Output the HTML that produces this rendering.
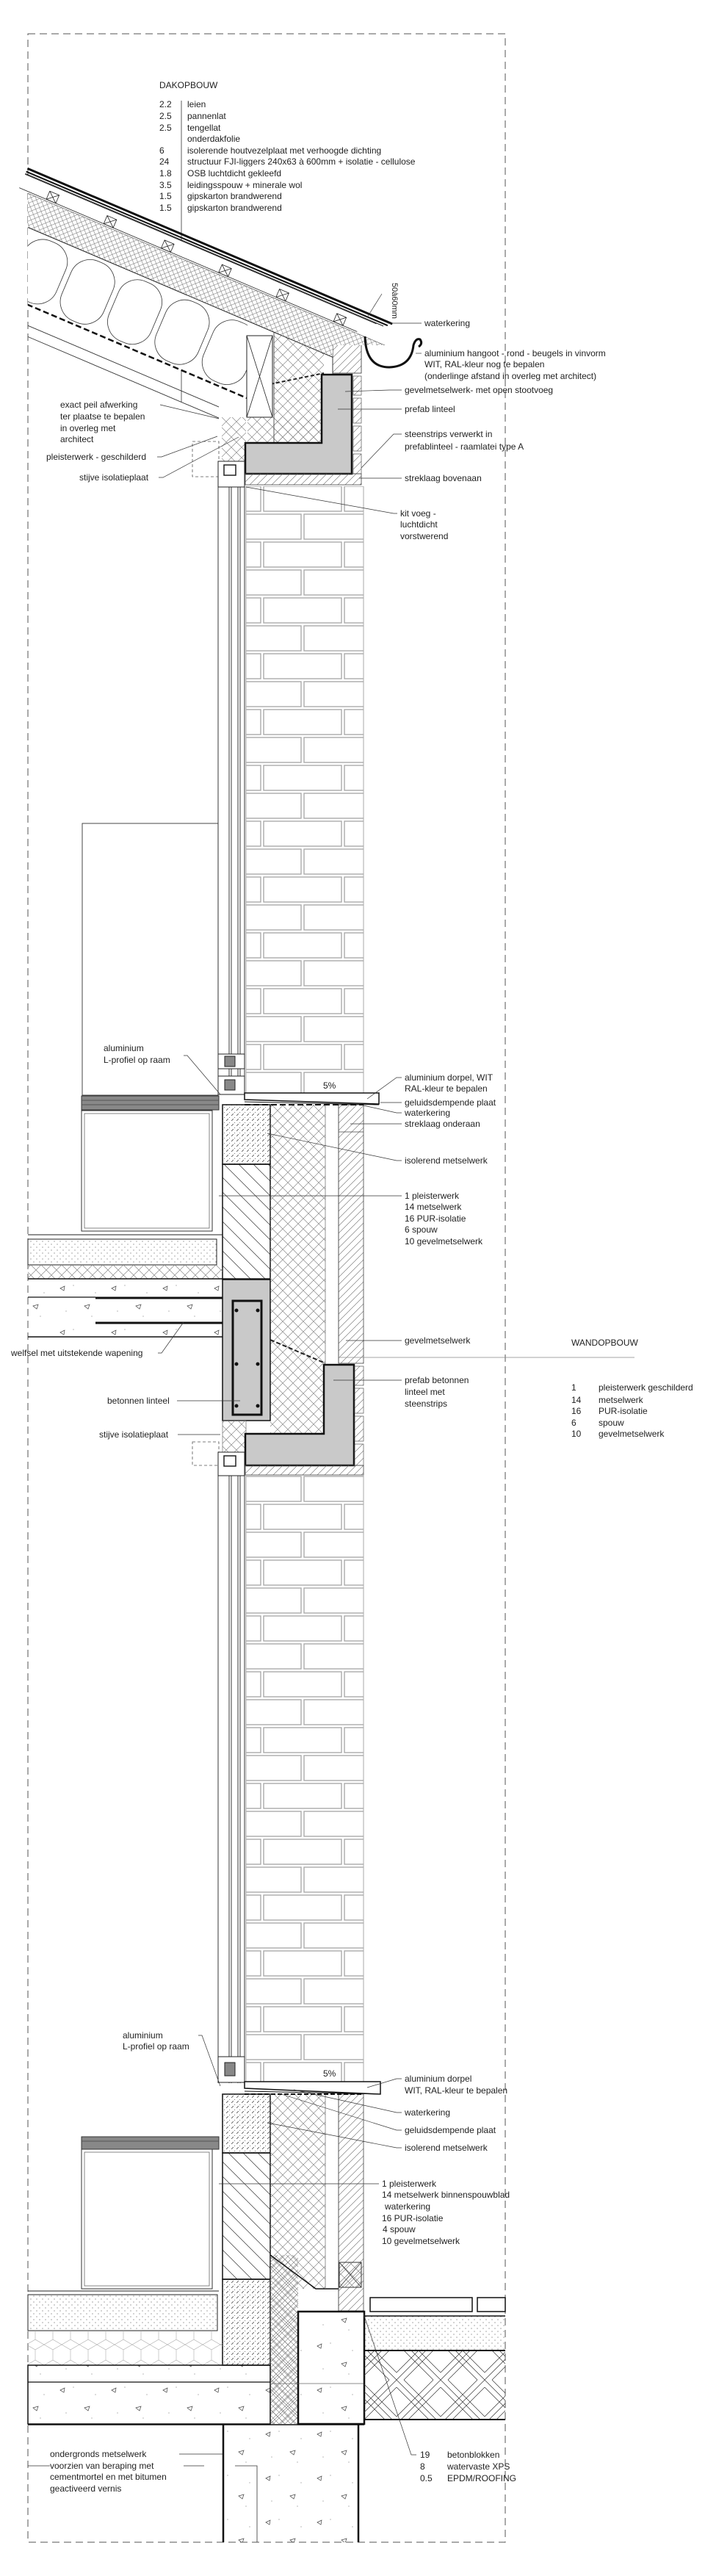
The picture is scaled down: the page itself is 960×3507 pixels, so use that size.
<!DOCTYPE html>
<html><head><meta charset="utf-8"><style>
html,body{margin:0;padding:0;background:#fff}
svg{display:block}
text{font-family:"Liberation Sans",sans-serif;font-size:12px;fill:#222}
</style></head><body>
<svg width="960" height="3507" viewBox="0 0 960 3507" xmlns="http://www.w3.org/2000/svg">
<defs>
<pattern id="xh" patternUnits="userSpaceOnUse" width="14" height="14">
<path d="M0,0L14,14M14,0L0,14" stroke="#8a8a8a" stroke-width="0.7"/></pattern>
<pattern id="xhs" patternUnits="userSpaceOnUse" width="8" height="8">
<path d="M0,0L8,8M8,0L0,8" stroke="#777" stroke-width="0.6"/></pattern>
<pattern id="h45" patternUnits="userSpaceOnUse" width="10" height="10">
<path d="M-2,12L12,-2M-2,2L2,-2M8,12L12,8" stroke="#666" stroke-width="0.6"/></pattern>
<pattern id="iso" patternUnits="userSpaceOnUse" width="7" height="7">
<path d="M0,7L5,2" stroke="#333" stroke-width="0.7" stroke-dasharray="4 2"/></pattern>
<pattern id="mets" patternUnits="userSpaceOnUse" width="20" height="20">
<path d="M0,0L20,20M-10,10L10,30M10,-10L30,10" stroke="#333" stroke-width="0.7"/></pattern>
<pattern id="dots" patternUnits="userSpaceOnUse" width="8" height="8">
<circle cx="2" cy="2" r="0.6" fill="#666"/><circle cx="6" cy="6" r="0.6" fill="#666"/></pattern>
<pattern id="conc" patternUnits="userSpaceOnUse" width="70" height="60">
<path d="M12,14l6,-3l-1,6z M45,38l7,-2l-2,6z" fill="none" stroke="#444" stroke-width="0.7"/>
<circle cx="30" cy="10" r="0.6" fill="#888"/><circle cx="60" cy="20" r="0.6" fill="#888"/><circle cx="20" cy="45" r="0.6" fill="#888"/><circle cx="55" cy="52" r="0.6" fill="#888"/></pattern>
<pattern id="hex" patternUnits="userSpaceOnUse" width="24" height="28">
<path d="M0,7L12,0L24,7L24,21L12,28L0,21Z" fill="none" stroke="#aaa" stroke-width="0.6"/></pattern>
<pattern id="herr" patternUnits="userSpaceOnUse" width="60" height="60">
<path d="M0,0L60,60M10,0L60,50M0,10L50,60M60,0L0,60M50,0L0,50M60,10L10,60" stroke="#333" stroke-width="0.7"/></pattern>
<pattern id="brick1" patternUnits="userSpaceOnUse" x="335" y="660" width="110" height="76">
<g fill="none" stroke="#aaa" stroke-width="1.4">
<rect x="-86" y="2" width="106" height="34"/><rect x="24" y="2" width="106" height="34"/>
<rect x="-31" y="40" width="106" height="34"/><rect x="79" y="40" width="106" height="34"/></g></pattern>
<pattern id="brick2" patternUnits="userSpaceOnUse" x="335" y="2008" width="110" height="76">
<g fill="none" stroke="#aaa" stroke-width="1.4">
<rect x="-31" y="2" width="106" height="34"/><rect x="79" y="2" width="106" height="34"/>
<rect x="-86" y="40" width="106" height="34"/><rect x="24" y="40" width="106" height="34"/></g></pattern>
<clipPath id="cl1"><polygon points="38,200 560,200 560,470 453,470 453,560 373,560 337,560 298,560 298,640 38,640"/></clipPath>
<clipPath id="cl2"><polygon points="38,200 337,200 337,640 38,640"/></clipPath>
<clipPath id="cl3"><polygon points="38,200 298,200 298,640 38,640"/></clipPath>
</defs>

<rect x="38" y="46" width="650" height="3415" fill="none" stroke="#555" stroke-width="1" stroke-dasharray="10 6"/>

<text x="217" y="120">DAKOPBOUW</text>
<line x1="247" y1="137" x2="247" y2="547" stroke="#333" stroke-width="0.8"/>
<g>
<text x="217" y="146">2.2</text><text x="255" y="146">leien</text>
<text x="217" y="162">2.5</text><text x="255" y="162">pannenlat</text>
<text x="217" y="178">2.5</text><text x="255" y="178">tengellat</text>
<text x="255" y="193">onderdakfolie</text>
<text x="217" y="209">6</text><text x="255" y="209">isolerende houtvezelplaat met verhoogde dichting</text>
<text x="217" y="224">24</text><text x="255" y="224">structuur FJI-liggers 240x63 à 600mm + isolatie - cellulose</text>
<text x="217" y="240">1.8</text><text x="255" y="240">OSB luchtdicht gekleefd</text>
<text x="217" y="256">3.5</text><text x="255" y="256">leidingsspouw + minerale wol</text>
<text x="217" y="271">1.5</text><text x="255" y="271">gipskarton brandwerend</text>
<text x="217" y="287">1.5</text><text x="255" y="287">gipskarton brandwerend</text>
</g>

<g clip-path="url(#cl2)">
<g transform="translate(38,228) rotate(23.07)">
<rect x="0" y="75" width="600" height="97" fill="#fff"/>
<g fill="none" stroke="#333" stroke-width="0.8">
<rect x="-30" y="80" width="62" height="88" rx="28"/><rect x="40" y="80" width="62" height="88" rx="28"/>
<rect x="110" y="80" width="62" height="88" rx="28"/><rect x="180" y="80" width="62" height="88" rx="28"/>
<rect x="250" y="80" width="62" height="88" rx="28"/><rect x="320" y="80" width="62" height="88" rx="28"/>
</g>
<line x1="0" y1="172" x2="600" y2="172" stroke="#111" stroke-width="2.5" stroke-dasharray="8 4"/>
</g></g>
<g clip-path="url(#cl3)">
<g transform="translate(38,228) rotate(23.07)">
<line x1="-20" y1="198" x2="600" y2="198" stroke="#333" stroke-width="0.9"/>
<line x1="-20" y1="212" x2="600" y2="212" stroke="#333" stroke-width="0.9"/>
</g></g>
<rect x="373" y="430" width="68" height="176" fill="url(#xh)"/>
<rect x="337" y="568" width="104" height="38" fill="url(#xh)"/>
<rect x="302" y="568" width="33" height="60" fill="url(#xh)"/>
<line x1="373" y1="440" x2="373" y2="606" stroke="#333" stroke-width="0.8"/>
<line x1="453" y1="470" x2="453" y2="510" stroke="#333" stroke-width="0.8"/>
<path d="M368,523 L441,508" stroke="#222" stroke-width="2" stroke-dasharray="5 3" fill="none"/>
<rect x="453" y="453" width="39" height="55" fill="url(#h45)" stroke="#333" stroke-width="0.8"/>
<g clip-path="url(#cl1)">
<g transform="translate(38,228) rotate(23.07)">
<rect x="0" y="32" width="600" height="43" fill="#fff"/>
<rect x="0" y="32" width="600" height="43" fill="url(#xhs)"/>
<line x1="0" y1="32" x2="600" y2="32" stroke="#222" stroke-width="1"/>
<line x1="0" y1="75" x2="600" y2="75" stroke="#222" stroke-width="1"/>
</g></g>
<g transform="translate(38,228) rotate(23.07)">
<rect x="0" y="10" width="545" height="22" fill="#fff"/>
<line x1="0" y1="10" x2="520" y2="10" stroke="#222" stroke-width="0.8"/>
<line x1="0" y1="30" x2="500" y2="30" stroke="#222" stroke-width="0.8"/>
<g fill="none" stroke="#222" stroke-width="0.8">
<path d="M40,18h14v12h-14zM40,18l14,12M54,18l-14,12"/>
<path d="M125,18h14v12h-14zM125,18l14,12M139,18l-14,12"/>
<path d="M210,18h14v12h-14zM210,18l14,12M224,18l-14,12"/>
<path d="M295,18h14v12h-14zM295,18l14,12M309,18l-14,12"/>
<path d="M380,18h14v12h-14zM380,18l14,12M394,18l-14,12"/>
<path d="M465,18h14v12h-14zM465,18l14,12M479,18l-14,12"/>
</g>
<rect x="0" y="0" width="540" height="3" fill="#111"/>
<rect x="0" y="5" width="535" height="2" fill="#111"/>
<line x1="0" y1="9" x2="530" y2="9" stroke="#111" stroke-width="1"/>
</g>
<rect x="336" y="457" width="35" height="111" fill="#fff" stroke="#222" stroke-width="1"/>
<path d="M336,457L371,568M371,457L336,568" stroke="#222" stroke-width="0.8"/>
<path d="M497,458 Q498,500 530,500 Q560,499 563,470 Q566,460 572,462 Q576,468 570,472" fill="none" stroke="#111" stroke-width="3"/>
<text transform="translate(534,385) rotate(90)" style="font-size:11px">50à60mm</text>
<line x1="500" y1="432" x2="520" y2="400" stroke="#333" stroke-width="0.7"/>
<path d="M334,603 L438,603 L438,510 L479,510 L479,645 L334,645 Z" fill="#c9c9c9" stroke="#111" stroke-width="2.5"/>
<g fill="url(#h45)" stroke="#555" stroke-width="0.7">
<rect x="481" y="512" width="11" height="26"/><rect x="481" y="542" width="11" height="34"/><rect x="481" y="580" width="11" height="34"/><rect x="481" y="618" width="11" height="27"/></g>
<rect x="334" y="645" width="158" height="15" fill="url(#h45)" stroke="#444" stroke-width="0.8"/>
<rect x="262" y="601" width="36" height="48" fill="none" stroke="#555" stroke-width="0.8" stroke-dasharray="4 3"/>
<rect x="297" y="628" width="36" height="35" fill="#fff" stroke="#222" stroke-width="1"/>
<rect x="305" y="633" width="16" height="14" fill="none" stroke="#222" stroke-width="1.5"/>

<rect x="335" y="662" width="160" height="826" fill="url(#brick1)"/>
<line x1="335" y1="662" x2="335" y2="1488" stroke="#aaa"/>
<line x1="495" y1="662" x2="495" y2="1488" stroke="#aaa"/>
<g stroke="#222" stroke-width="0.9">
<line x1="297" y1="628" x2="297" y2="1490"/><line x1="312" y1="663" x2="312" y2="1490"/>
<line x1="315" y1="663" x2="315" y2="1490"/><line x1="324" y1="663" x2="324" y2="1490"/>
<line x1="327" y1="663" x2="327" y2="1490"/><line x1="333" y1="663" x2="333" y2="1490"/></g>
<rect x="297" y="1435" width="36" height="20" fill="#fff" stroke="#222"/>
<rect x="297" y="1465" width="36" height="25" fill="#fff" stroke="#222"/>
<rect x="306" y="1438" width="14" height="14" fill="#888" stroke="#222"/>
<rect x="306" y="1470" width="14" height="14" fill="#888" stroke="#222"/>
<rect x="112" y="1121" width="185" height="370" fill="none" stroke="#333" stroke-width="0.9"/>

<path d="M333,1488 L516,1488 L516,1503 L333,1497 Z" fill="#fff" stroke="#111" stroke-width="1.5"/>
<path d="M333,1500 L516,1504" stroke="#111" stroke-width="1" fill="none"/>
<text x="440" y="1482">5%</text>
<rect x="111" y="1492" width="187" height="19" fill="#888" stroke="#333"/>
<line x1="111" y1="1498" x2="298" y2="1498" stroke="#555"/><line x1="111" y1="1504" x2="298" y2="1504" stroke="#555"/>
<rect x="111" y="1512" width="178" height="164" fill="#fff" stroke="#333"/>
<rect x="115" y="1516" width="170" height="156" fill="none" stroke="#555" stroke-width="0.7"/>
<rect x="303" y="1504" width="65" height="81" fill="url(#iso)" stroke="#111" stroke-width="1.5"/>
<rect x="303" y="1585" width="65" height="156" fill="url(#mets)" stroke="#111" stroke-width="1.5"/>
<rect x="368" y="1504" width="75" height="448" fill="url(#xh)"/>
<line x1="443" y1="1504" x2="443" y2="1856" stroke="#666" stroke-width="0.7"/>
<line x1="461" y1="1504" x2="461" y2="1856" stroke="#666" stroke-width="0.7"/>
<rect x="461" y="1504" width="34" height="352" fill="url(#h45)" stroke="#444" stroke-width="0.8"/>
<line x1="461" y1="1541" x2="495" y2="1541" stroke="#444" stroke-width="0.8"/>
<path d="M333,1504 L495,1504" stroke="#111" stroke-width="2" stroke-dasharray="8 4"/>
<line x1="38" y1="1681" x2="303" y2="1681" stroke="#222" stroke-width="1"/>
<rect x="38" y="1687" width="257" height="35" fill="url(#dots)" stroke="#222" stroke-width="1"/>
<rect x="38" y="1722" width="265" height="19" fill="url(#xh)"/>
<line x1="38" y1="1741" x2="303" y2="1741" stroke="#111" stroke-width="1.5"/>
<rect x="38" y="1742" width="265" height="78" fill="url(#conc)"/>
<line x1="38" y1="1766" x2="130" y2="1766" stroke="#111" stroke-width="1.2"/>
<line x1="130" y1="1767" x2="368" y2="1767" stroke="#111" stroke-width="3"/>
<line x1="130" y1="1801" x2="368" y2="1801" stroke="#111" stroke-width="3"/>
<line x1="38" y1="1820" x2="303" y2="1820" stroke="#111" stroke-width="1.5"/>
<rect x="303" y="1742" width="65" height="192" fill="#c9c9c9" stroke="#111" stroke-width="1.5"/>
<rect x="317" y="1771" width="39" height="155" fill="none" stroke="#111" stroke-width="3"/>
<g fill="#111"><circle cx="322" cy="1784" r="2.5"/><circle cx="351" cy="1784" r="2.5"/><circle cx="322" cy="1857" r="2.5"/><circle cx="351" cy="1857" r="2.5"/><circle cx="322" cy="1914" r="2.5"/><circle cx="351" cy="1914" r="2.5"/></g>
<rect x="303" y="1934" width="32" height="43" fill="url(#xh)" stroke="#555" stroke-width="0.6"/>
<path d="M368,1824 L443,1856" stroke="#222" stroke-width="2" stroke-dasharray="6 3"/>
<line x1="461" y1="1848" x2="864" y2="1848" stroke="#888" stroke-width="0.8"/>
<path d="M334,1952 L441,1952 L441,1858 L482,1858 L482,1995 L334,1995 Z" fill="#c9c9c9" stroke="#111" stroke-width="2.5"/>
<g fill="url(#h45)" stroke="#555" stroke-width="0.7">
<rect x="483" y="1860" width="12" height="26"/><rect x="483" y="1890" width="12" height="34"/><rect x="483" y="1928" width="12" height="34"/><rect x="483" y="1966" width="12" height="29"/></g>
<rect x="334" y="1995" width="161" height="13" fill="url(#h45)" stroke="#444" stroke-width="0.8"/>
<rect x="262" y="1963" width="36" height="32" fill="none" stroke="#555" stroke-width="0.8" stroke-dasharray="4 3"/>
<rect x="297" y="1977" width="36" height="32" fill="#fff" stroke="#222" stroke-width="1"/>
<rect x="305" y="1982" width="16" height="14" fill="none" stroke="#222" stroke-width="1.5"/>

<rect x="335" y="2008" width="160" height="826" fill="url(#brick2)"/>
<line x1="335" y1="2008" x2="335" y2="2834" stroke="#aaa"/>
<line x1="495" y1="2008" x2="495" y2="2834" stroke="#aaa"/>
<g stroke="#222" stroke-width="0.9">
<line x1="297" y1="1977" x2="297" y2="2836"/><line x1="312" y1="2009" x2="312" y2="2836"/>
<line x1="315" y1="2009" x2="315" y2="2836"/><line x1="324" y1="2009" x2="324" y2="2836"/>
<line x1="327" y1="2009" x2="327" y2="2836"/><line x1="333" y1="2009" x2="333" y2="2836"/></g>
<rect x="297" y="2800" width="36" height="35" fill="#fff" stroke="#222"/>
<rect x="306" y="2808" width="14" height="18" fill="#888" stroke="#222"/>

<path d="M333,2834 L518,2834 L518,2851 L333,2843 Z" fill="#fff" stroke="#111" stroke-width="1.5"/>
<path d="M333,2847 L518,2851" stroke="#111" stroke-width="1" fill="none"/>
<text x="440" y="2827">5%</text>
<rect x="111" y="2909" width="187" height="17" fill="#888" stroke="#333"/>
<line x1="111" y1="2915" x2="298" y2="2915" stroke="#555"/>
<rect x="111" y="2926" width="178" height="190" fill="#fff" stroke="#333"/>
<rect x="115" y="2930" width="170" height="182" fill="none" stroke="#555" stroke-width="0.7"/>
<rect x="303" y="2851" width="65" height="80" fill="url(#iso)" stroke="#111" stroke-width="1.5"/>
<rect x="303" y="2931" width="65" height="172" fill="url(#mets)" stroke="#111" stroke-width="1.5"/>
<rect x="303" y="3103" width="65" height="117" fill="url(#iso)" stroke="#111" stroke-width="1.5"/>
<polygon points="368,2851 443,2851 443,3116 406,3116 406,3300 368,3300" fill="url(#xh)"/>
<rect x="368" y="3070" width="38" height="230" fill="url(#xhs)"/>
<path d="M368,3070 L430,3116 L461,3116" stroke="#111" stroke-width="1.5" fill="none"/>
<line x1="443" y1="2851" x2="443" y2="3116" stroke="#666" stroke-width="0.7"/>
<line x1="461" y1="2851" x2="461" y2="3146" stroke="#666" stroke-width="0.7"/>
<rect x="461" y="2851" width="34" height="295" fill="url(#h45)" stroke="#444" stroke-width="0.8"/>
<rect x="462" y="3080" width="30" height="34" fill="url(#xh)" stroke="#333"/>
<path d="M462,3080L492,3114M492,3080L462,3114" stroke="#333" stroke-width="0.8"/>
<path d="M333,2851 L495,2851" stroke="#111" stroke-width="2" stroke-dasharray="6 3"/>
<line x1="38" y1="3119" x2="298" y2="3119" stroke="#222" stroke-width="1"/>
<rect x="38" y="3124" width="258" height="49" fill="url(#dots)" stroke="#222" stroke-width="1"/>
<rect x="38" y="3173" width="265" height="47" fill="url(#hex)"/>
<rect x="38" y="3220" width="330" height="80" fill="url(#conc)" stroke="#111" stroke-width="1.5"/>
<line x1="38" y1="3243" x2="368" y2="3243" stroke="#111" stroke-width="1.2"/>
<rect x="406" y="3147" width="90" height="153" fill="url(#conc)" stroke="#111" stroke-width="2.5"/>
<line x1="368" y1="3245" x2="495" y2="3245" stroke="#666" stroke-width="0.7"/>
<rect x="504" y="3128" width="139" height="19" fill="#fff" stroke="#111" stroke-width="1.5"/>
<rect x="650" y="3128" width="38" height="19" fill="#fff" stroke="#111" stroke-width="1.5"/>
<rect x="496" y="3153" width="192" height="47" fill="url(#dots)"/>
<line x1="496" y1="3153" x2="688" y2="3153" stroke="#111" stroke-width="1.5"/>
<rect x="496" y="3200" width="192" height="94" fill="url(#herr)"/>
<line x1="496" y1="3200" x2="688" y2="3200" stroke="#111" stroke-width="2"/>
<line x1="496" y1="3294" x2="688" y2="3294" stroke="#111" stroke-width="2"/>
<rect x="304" y="3300" width="184" height="161" fill="url(#conc)"/>
<line x1="304" y1="3300" x2="304" y2="3461" stroke="#111" stroke-width="2.5"/>
<line x1="488" y1="3300" x2="488" y2="3461" stroke="#111" stroke-width="2.5"/>
<line x1="38" y1="3301" x2="496" y2="3301" stroke="#111" stroke-width="1.5"/>
<polyline points="320,3357 350,3357 350,3461" fill="none" stroke="#333" stroke-width="0.8"/>

<g stroke="#333" stroke-width="0.7" fill="none">
<line x1="528" y1="440" x2="574" y2="440"/>
<line x1="566" y1="481" x2="574" y2="481"/>
<polyline points="470,533 530,531 547,531"/>
<line x1="460" y1="557" x2="547" y2="557"/>
<polyline points="492,637 536,591 547,591"/>
<line x1="489" y1="651" x2="547" y2="651"/>
<polyline points="335,663 536,699 541,699"/>
<polyline points="218,551 290,568 298,570"/>
<polyline points="214,622 220,622 296,594"/>
<polyline points="216,650 222,650 325,595"/>
<polyline points="250,1437 255,1437 300,1490"/>
<polyline points="500,1496 540,1467 547,1467"/>
<line x1="518" y1="1501" x2="547" y2="1501"/>
<polyline points="495,1505 540,1515 547,1515"/>
<line x1="477" y1="1530" x2="547" y2="1530"/>
<polyline points="364,1543 540,1580 547,1580"/>
<line x1="298" y1="1628" x2="547" y2="1628"/>
<line x1="471" y1="1825" x2="547" y2="1825"/>
<line x1="454" y1="1879" x2="547" y2="1879"/>
<polyline points="215,1842 220,1842 250,1800"/>
<line x1="241" y1="1907" x2="327" y2="1907"/>
<line x1="242" y1="1953" x2="300" y2="1953"/>
<polyline points="270,2771 275,2771 300,2840"/>
<polyline points="500,2842 540,2830 547,2830"/>
<polyline points="400,2845 540,2876 547,2876"/>
<polyline points="380,2850 540,2900 547,2900"/>
<polyline points="364,2890 540,2924 547,2924"/>
<line x1="298" y1="2973" x2="516" y2="2973"/>
<polyline points="495,3150 560,3342 567,3342"/>
<line x1="244" y1="3341" x2="303" y2="3341"/>
<line x1="250" y1="3357" x2="278" y2="3357"/>
<line x1="38" y1="3357" x2="68" y2="3357"/>
</g>
<g>
<text x="578" y="444">waterkering</text>
<text x="578" y="485">aluminium hangoot - rond - beugels in vinvorm</text>
<text x="578" y="500">WIT, RAL-kleur nog te bepalen</text>
<text x="578" y="516">(onderlinge afstand in overleg met architect)</text>
<text x="551" y="535">gevelmetselwerk- met open stootvoeg</text>
<text x="551" y="561">prefab linteel</text>
<text x="551" y="595">steenstrips verwerkt in</text>
<text x="551" y="612">prefablinteel - raamlatei type A</text>
<text x="551" y="655">streklaag bovenaan</text>
<text x="545" y="703">kit voeg -</text>
<text x="545" y="718">luchtdicht</text>
<text x="545" y="734">vorstwerend</text>
<text x="82" y="555">exact peil afwerking</text>
<text x="82" y="571">ter plaatse te bepalen</text>
<text x="82" y="587">in overleg met</text>
<text x="82" y="602">architect</text>
<text x="63" y="626">pleisterwerk - geschilderd</text>
<text x="108" y="654">stijve isolatieplaat</text>

<text x="141" y="1431">aluminium</text>
<text x="141" y="1447">L-profiel op raam</text>
<text x="551" y="1471">aluminium dorpel, WIT</text>
<text x="551" y="1486">RAL-kleur te bepalen</text>
<text x="551" y="1505">geluidsdempende plaat</text>
<text x="551" y="1519">waterkering</text>
<text x="551" y="1534">streklaag onderaan</text>
<text x="551" y="1584">isolerend metselwerk</text>
<text x="551" y="1632">1 pleisterwerk</text>
<text x="551" y="1647">14 metselwerk</text>
<text x="551" y="1663">16 PUR-isolatie</text>
<text x="551" y="1678">6 spouw</text>
<text x="551" y="1694">10 gevelmetselwerk</text>
<text x="551" y="1829">gevelmetselwerk</text>
<text x="778" y="1832">WANDOPBOUW</text>
<text x="551" y="1883">prefab betonnen</text>
<text x="551" y="1899">linteel met</text>
<text x="551" y="1915">steenstrips</text>
<text x="778" y="1893">1</text><text x="815" y="1893">pleisterwerk geschilderd</text>
<text x="778" y="1910">14</text><text x="815" y="1910">metselwerk</text>
<text x="778" y="1925">16</text><text x="815" y="1925">PUR-isolatie</text>
<text x="778" y="1941">6</text><text x="815" y="1941">spouw</text>
<text x="778" y="1956">10</text><text x="815" y="1956">gevelmetselwerk</text>
<text x="15" y="1846">welfsel met uitstekende wapening</text>
<text x="146" y="1911">betonnen linteel</text>
<text x="135" y="1957">stijve isolatieplaat</text>

<text x="167" y="2775">aluminium</text>
<text x="167" y="2790">L-profiel op raam</text>
<text x="551" y="2834">aluminium dorpel</text>
<text x="551" y="2850">WIT, RAL-kleur te bepalen</text>
<text x="551" y="2880">waterkering</text>
<text x="551" y="2904">geluidsdempende plaat</text>
<text x="551" y="2928">isolerend metselwerk</text>
<text x="520" y="2977">1 pleisterwerk</text>
<text x="520" y="2992">14 metselwerk binnenspouwblad</text>
<text x="524" y="3008">waterkering</text>
<text x="520" y="3024">16 PUR-isolatie</text>
<text x="521" y="3039">4 spouw</text>
<text x="520" y="3055">10 gevelmetselwerk</text>
<text x="572" y="3346">19</text><text x="609" y="3346">betonblokken</text>
<text x="572" y="3362">8</text><text x="609" y="3362">watervaste XPS</text>
<text x="572" y="3378">0.5</text><text x="609" y="3378">EPDM/ROOFING</text>
<text x="68" y="3345">ondergronds metselwerk</text>
<text x="68" y="3361">voorzien van beraping met</text>
<text x="68" y="3376">cementmortel en met bitumen</text>
<text x="68" y="3392">geactiveerd vernis</text>
</g>
</svg>
</body></html>
